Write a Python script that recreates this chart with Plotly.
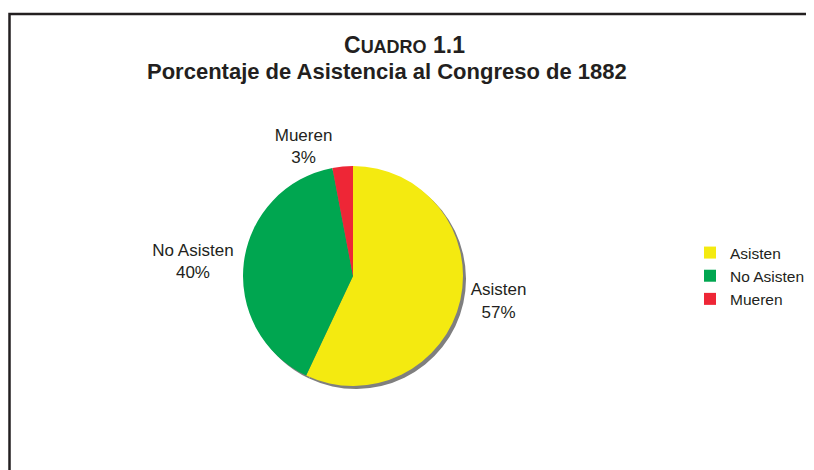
import plotly.graph_objects as go

labels = ["Asisten", "No Asisten", "Mueren"]
values = [57, 40, 3]
colors = ["#F4EA10", "#00A650", "#EE2636"]

OFF = 8  # page body margin
W, H = 814 - OFF, 470 - OFF
cx, cy, r = 353 - OFF, 276 - OFF, 110
sh = 3

def px(x):
    return (x - OFF) / W

def py(y):
    return 1 - (y - OFF) / H

def dom(cx, cy, r):
    return dict(x=[(cx - r) / W, (cx + r) / W], y=[(H - cy - r) / H, (H - cy + r) / H])

fig = go.Figure()
# shadow
fig.add_trace(go.Pie(
    labels=labels, values=values, sort=False, direction="clockwise", rotation=0,
    marker=dict(colors=["#7f7f7f"] * 3, line=dict(width=0)),
    textinfo="none", hoverinfo="skip", showlegend=False,
    domain=dom(cx + sh, cy + sh, r),
))
fig.add_trace(go.Pie(
    labels=labels, values=values, sort=False, direction="clockwise", rotation=0,
    marker=dict(colors=colors, line=dict(width=0)),
    texttemplate="%{label}<br>%{percent:.0%}", textposition="outside",
    outsidetextfont=dict(size=17, color="#231f20", family="Liberation Sans, Arial"),
    domain=dom(cx, cy, r),
))

fig.update_layout(
    width=W, height=H,
    margin=dict(l=0, r=0, t=0, b=0),
    paper_bgcolor="white", plot_bgcolor="white",
    font=dict(family="Liberation Sans, Arial", color="#231f20"),
    showlegend=True,
    legend=dict(x=px(690), y=py(236), xanchor="left", yanchor="top",
                font=dict(size=15.5, color="#231f20"), bgcolor="rgba(0,0,0,0)",
                tracegroupgap=0),
    shapes=[dict(type="rect", xref="paper", yref="paper",
                 x0=px(9.5), x1=1.05, y0=-0.1, y1=py(14),
                 line=dict(color="#231f20", width=2.5), fillcolor="rgba(0,0,0,0)")],
    annotations=[
        dict(text="<b>C<span style='font-size:18px'>UADRO</span> 1.1</b>",
             x=px(404), y=py(45), xref="paper", yref="paper", showarrow=False,
             font=dict(size=23, color="#231f20"), xanchor="center", yanchor="middle"),
        dict(text="<b>Porcentaje de Asistencia al Congreso de 1882</b>",
             x=px(387), y=py(72), xref="paper", yref="paper", showarrow=False,
             font=dict(size=22, color="#231f20"), xanchor="center", yanchor="middle"),
    ],
)

fig.write_html("out.html")
